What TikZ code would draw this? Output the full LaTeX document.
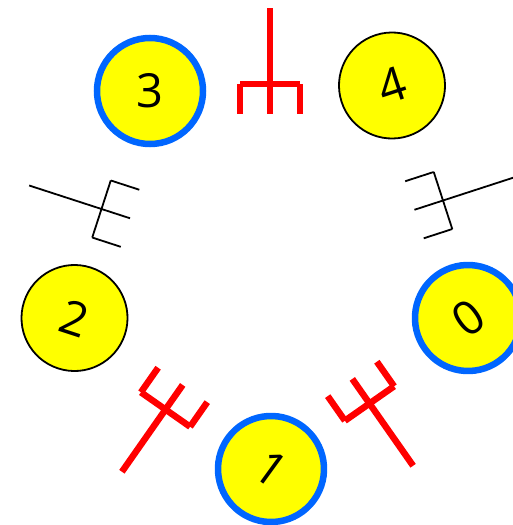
\documentclass[tikz,border=0pt]{standalone}
\usepackage{fontspec}
\setmainfont{Open Sans}
\definecolor{ringblue}{RGB}{0,102,255}
\definecolor{philyellow}{RGB}{255,255,0}
\definecolor{forkred}{RGB}{255,0,0}
\tikzset{
  phil/.style={circle,draw=black,fill=philyellow,line width=1.8pt,minimum size=106pt,
    inner sep=0pt,outer sep=0pt,font=\fontsize{47}{47}\selectfont},
  philbusy/.style={phil,draw=ringblue,line width=6.5pt},
  pics/fork/.style={code={
    \draw (0,-76) -- (0,30);
    \draw (-30,0) -- (30,0);
    \draw (-30,0) -- (-30,30);
    \draw (30,0) -- (30,30);
  }},
  thinfork/.style={draw=black,line width=1.8pt,line cap=square},
  heldfork/.style={draw=forkred,line width=6.5pt}
}
\begin{document}
\begin{tikzpicture}[x=1pt,y=-1pt]
\clip (0,0) rectangle (513,525);

\node[philbusy,rotate=36]  (phil0) at (468,318) {0};
\node[philbusy,rotate=-36] (phil1) at (271,469) {1};
\node[phil,rotate=-18]     (phil2) at (74.5,318) {2};
\node[philbusy]            (phil3) at (150,91) {3};
\node[phil,rotate=18]      (phil4) at (392,85.5) {4};

\pic[heldfork,rotate=0]    at (270,84)      {fork};
\pic[thinfork,rotate=-72]  at (443,200.5)   {fork};
\pic[thinfork,rotate=72]   at (101.5,209)   {fork};
\pic[heldfork,rotate=145]  at (165.5,409.5) {fork};
\pic[heldfork,rotate=-145] at (369.5,403.5) {fork};
\end{tikzpicture}
\end{document}
